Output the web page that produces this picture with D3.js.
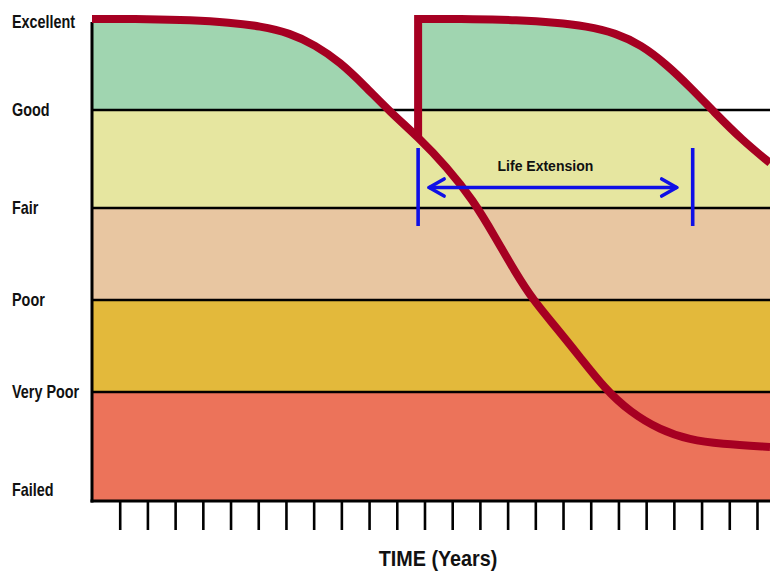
<!DOCTYPE html>
<html>
<head>
<meta charset="utf-8">
<script src="https://cdn.jsdelivr.net/npm/d3@7"></script>
<style>
  html, body { margin: 0; padding: 0; background: #fff; }
  svg { display: block; }
  .lbl { font-family: 'Liberation Sans', Arial, sans-serif; font-weight: bold; fill: #111; }
</style>
</head>
<body>
<svg id="chart" width="770" height="572"></svg>
<script>
// ---------- data ----------
const conditionLevels = [0, 1, 2, 3, 4, 5];
const conditionLabels = ["Failed", "Very Poor", "Poor", "Fair", "Good", "Excellent"];
const bandColors = ["#ec735a", "#e3b93b", "#e8c6a1", "#e6e6a0", "#a0d5b0"]; // band i spans level i..i+1
const yearTicks = [1,2,3,4,5,6,7,8,9,10,11,12,13,14,15,16,17,18,19,20,21,22,23,24];

// original deterioration curve (years, condition level)
const curve1Years = [0, 2.09, 3.54, 4.98, 6.06, 7.15, 8.05, 8.95, 9.85, 10.76, 11.77, 12.81, 13.75, 14.55, 15.27, 15.92, 16.71, 17.61, 18.52, 19.42, 20.50, 21.58, 22.67, 24.47];
const curve1Cond  = [5, 5, 4.989, 4.962, 4.923, 4.846, 4.714, 4.527, 4.264, 3.980, 3.724, 3.418, 3.082, 2.685, 2.304, 2.0, 1.717, 1.380, 1.033, 0.815, 0.648, 0.556, 0.519, 0.491];

// curve after renewal
const renewalYear = 11.77;
const renewalFromCond = 3.72;
const curve2Years = [11.77, 13.86, 15.30, 16.75, 17.83, 18.91, 19.82, 20.72, 21.62, 22.45, 23.46, 24.47];
const curve2Cond  = [5, 5, 4.989, 4.962, 4.923, 4.846, 4.714, 4.505, 4.242, 3.980, 3.694, 3.459];

// life extension annotation
const lifeExtLabel = "Life Extension";
const lifeExtStart = 11.77, lifeExtEnd = 21.68;
const axisTitle = "TIME (Years)";

// ---------- scales ----------
const svg = d3.select("#chart");
const x = d3.scaleLinear().domain([0, 24.47]).range([92, 770]);
const y = d3.scaleLinear().domain(conditionLevels).range([500, 392, 300, 208, 110, 19]);

const c1 = curve1Years.map((t, i) => [t, curve1Cond[i]]);
const c2 = curve2Years.map((t, i) => [t, curve2Cond[i]]);

// ---------- clip (area under the condition envelope) ----------
const area = d3.area().x(d => x(d[0])).y0(y(0)).y1(d => y(d[1])).curve(d3.curveBasis);
const clip = svg.append("defs").append("clipPath").attr("id", "under");
clip.append("path").attr("d", area(c1));
clip.append("path").attr("d", area(c2));

// ---------- bands ----------
svg.append("g").attr("clip-path", "url(#under)")
  .selectAll("rect").data(bandColors).join("rect")
  .attr("x", x(0)).attr("width", x.range()[1] - x(0))
  .attr("y", (d, i) => y(i + 1)).attr("height", (d, i) => y(i) - y(i + 1))
  .attr("fill", d => d);

// band boundary lines
svg.append("g").selectAll("line").data(conditionLevels.slice(1, 5)).join("line")
  .attr("x1", x(0)).attr("x2", 770)
  .attr("y1", d => y(d)).attr("y2", d => y(d))
  .attr("stroke", "#000").attr("stroke-width", 2.6);

// left axis line and bottom line
svg.append("line").attr("x1", x(0)).attr("x2", x(0)).attr("y1", y(5) + 3).attr("y2", y(0) + 2.5)
  .attr("stroke", "#000").attr("stroke-width", 3);
svg.append("line").attr("x1", x(0) - 1.5).attr("x2", 770).attr("y1", y(0) + 1).attr("y2", y(0) + 1)
  .attr("stroke", "#000").attr("stroke-width", 3);

// ticks
const xAxis = d3.axisBottom(x).tickValues(yearTicks).tickSize(28).tickFormat("");
const gx = svg.append("g").attr("transform", `translate(0,${y(0) + 2})`).call(xAxis);
gx.select(".domain").remove();
gx.selectAll(".tick line").attr("stroke", "#000").attr("stroke-width", 2.6);

// ---------- curves ----------
const line = d3.line().x(d => x(d[0])).y(d => y(d[1])).curve(d3.curveBasis);
svg.append("path").attr("d", line(c1))
  .attr("fill", "none").attr("stroke", "#a60022").attr("stroke-width", 8);
const c2path = `M${x(renewalYear)},${y(renewalFromCond)}` + line(c2).replace(/^M/, "L");
svg.append("path").attr("d", c2path)
  .attr("fill", "none").attr("stroke", "#a60022").attr("stroke-width", 8)
  .attr("stroke-linejoin", "miter");

// ---------- life extension annotation ----------
const blue = "#1010e6";
const barTop = 148, barBot = 226, arrowY = 187.5;
const ann = svg.append("g").attr("stroke", blue).attr("stroke-width", 3.6).attr("fill", "none")
  .attr("stroke-linejoin", "round").attr("stroke-linecap", "round");
[lifeExtStart, lifeExtEnd].forEach(t => {
  ann.append("line").attr("x1", x(t)).attr("x2", x(t)).attr("y1", barTop).attr("y2", barBot)
    .attr("stroke-linecap", "butt");
});
const ax1 = x(lifeExtStart) + 11, ax2 = x(lifeExtEnd) - 16;
ann.append("line").attr("x1", ax1).attr("x2", ax2).attr("y1", arrowY).attr("y2", arrowY);
ann.append("path").attr("d", `M${ax1 + 15},${arrowY - 8.5} L${ax1},${arrowY} L${ax1 + 15},${arrowY + 8.5}`);
ann.append("path").attr("d", `M${ax2 - 15},${arrowY - 8.5} L${ax2},${arrowY} L${ax2 - 15},${arrowY + 8.5}`);

svg.append("text").attr("x", (x(lifeExtStart) + x(lifeExtEnd)) / 2 - 10).attr("y", 171)
  .attr("text-anchor", "middle")
  .style("font-family", "'Liberation Sans', Arial, sans-serif").style("font-weight", "bold")
  .style("font-size", "14px").style("fill", "#111")
  .text(lifeExtLabel);

// ---------- condition labels (narrow, like Arial Narrow) ----------
svg.append("g").selectAll("text").data(conditionLevels).join("text")
  .attr("class", "lbl")
  .attr("transform", d => `translate(12,${Math.min(Math.max(y(d), 22), 490)}) scale(0.8,1)`)
  .attr("dy", "0.36em")
  .style("font-size", "18px")
  .text(d => conditionLabels[d]);

// ---------- axis title ----------
svg.append("text").attr("class", "lbl")
  .attr("transform", "translate(438,566) scale(0.9,1)").attr("text-anchor", "middle")
  .style("font-size", "22px")
  .text(axisTitle);
</script>
</body>
</html>
